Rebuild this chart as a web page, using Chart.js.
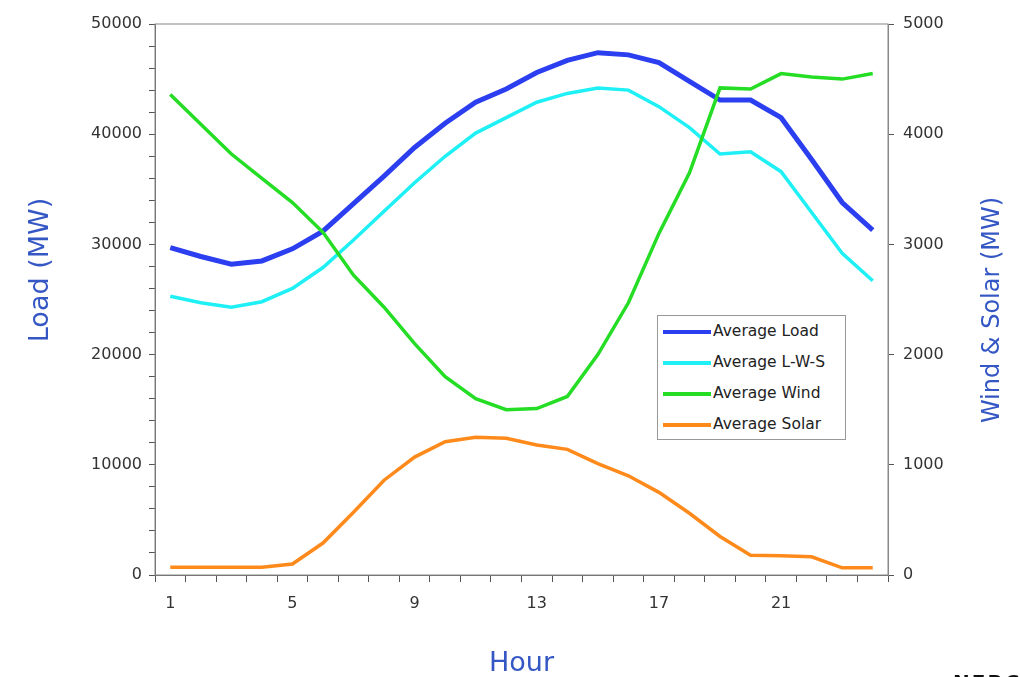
<!DOCTYPE html>
<html>
<head>
<meta charset="utf-8">
<script src="https://cdn.jsdelivr.net/npm/chart.js@4/dist/chart.umd.min.js"></script>
<style>
  body { margin: 0; background: #fff; overflow: hidden; }
  #wrap { position: relative; width: 1020px; height: 677px; overflow: hidden; }
  #legend {
    position: absolute; left: 657px; top: 315px; width: 189px; height: 125px;
    border: 1px solid #999; background: #fff; box-sizing: border-box;
    font: 15.5px "DejaVu Sans", sans-serif; color: #222;
  }
  #legend div { height: 31px; line-height: 31px; white-space: nowrap; }
  #legend span { display: inline-block; width: 48px; height: 4px; vertical-align: middle; margin: 0 2px 0 5px; }
  #nerc { position: absolute; left: 953px; top: 670px; font: bold 20px "DejaVu Sans", sans-serif; color: #111; letter-spacing: 2px; }
</style>
</head>
<body>
<div id="wrap">
  <canvas id="c" width="1020" height="677"></canvas>
  <div id="legend"></div>
  <div id="nerc">NERC</div>
</div>
<script>
// hourly averages
var hours = ['1','2','3','4','5','6','7','8','9','10','11','12','13','14','15','16','17','18','19','20','21','22','23','24'];
var avgLoad = [29700, 28900, 28200, 28500, 29600, 31200, 33700, 36200, 38800, 41000, 42900, 44100, 45600, 46700, 47400, 47200, 46500, 44800, 43100, 43100, 41500, 37700, 33800, 31300];
var avgLWS = [25300, 24700, 24300, 24800, 26000, 27900, 30400, 33000, 35600, 38000, 40100, 41500, 42900, 43700, 44200, 44000, 42500, 40600, 38200, 38400, 36600, 32900, 29200, 26700];
var avgWind = [4360, 4090, 3820, 3600, 3380, 3110, 2720, 2430, 2100, 1800, 1600, 1500, 1510, 1620, 2000, 2470, 3100, 3650, 4420, 4410, 4550, 4520, 4500, 4550];
var avgSolar = [70, 70, 70, 70, 100, 290, 570, 860, 1070, 1210, 1250, 1240, 1180, 1140, 1010, 900, 750, 560, 350, 180, 175, 165, 65, 65];

var titleBlue = '#3557c4';
var tickFont = { family: 'DejaVu Sans', size: 16 };

// frame round the plot + the two rotated y titles
var framePlugin = {
    id: 'frame',
    afterDraw: function (chart) {
        var ctx = chart.ctx, a = chart.chartArea;
        ctx.save();
        ctx.strokeStyle = '#888';
        ctx.lineWidth = 1;
        ctx.strokeRect(a.left, a.top, a.right - a.left, a.bottom - a.top);

        ctx.fillStyle = titleBlue;
        ctx.textAlign = 'center';
        ctx.textBaseline = 'middle';
        ctx.font = '27px "DejaVu Sans"';
        ctx.translate(41, 270);
        ctx.rotate(-Math.PI / 2);
        ctx.fillText('Load (MW)', 0, 0);
        ctx.restore();

        ctx.save();
        ctx.fillStyle = titleBlue;
        ctx.textAlign = 'center';
        ctx.textBaseline = 'middle';
        ctx.font = '24px "DejaVu Sans"';
        ctx.translate(993, 310);
        ctx.rotate(-Math.PI / 2);
        ctx.fillText('Wind & Solar (MW)', 0, 0);
        ctx.restore();
    }
};

function line(label, data, color, width, axis, order) {
    return {
        label: label, data: data, yAxisID: axis, order: order,
        borderColor: color, backgroundColor: color, borderWidth: width,
        pointRadius: 0, tension: 0, fill: false
    };
}

var chart = new Chart(document.getElementById('c'), {
    type: 'line',
    data: {
        labels: hours,
        datasets: [
            line('Average Load', avgLoad, '#2b3ff0', 5, 'y', 2),
            line('Average L-W-S', avgLWS, '#1ef0f6', 3.5, 'y', 1),
            line('Average Wind', avgWind, '#25dd25', 3.5, 'y1', 0),
            line('Average Solar', avgSolar, '#ff8a1c', 3.5, 'y1', 0)
        ]
    },
    options: {
        responsive: false,
        animation: false,
        layout: { padding: { top: 24, left: 0, right: 0, bottom: 0 } },
        plugins: { legend: { display: false }, tooltip: { enabled: false } },
        scales: {
            x: {
                offset: true,
                grid: { offset: true, drawOnChartArea: false, tickLength: 7, color: '#555' },
                border: { color: '#666' },
                ticks: {
                    autoSkip: false, maxRotation: 0, padding: 12, color: '#333', font: tickFont,
                    callback: function (v, i) { return i % 4 === 0 ? this.getLabelForValue(v) : ''; }
                },
                title: { display: true, text: 'Hour', color: titleBlue, font: { family: 'DejaVu Sans', size: 27 }, padding: { top: 0, bottom: -3 } },
                afterFit: function (s) { s.height = 102; }
            },
            y: {
                position: 'left', min: 0, max: 50000,
                grid: { drawOnChartArea: false, tickLength: 6, color: '#555' },
                border: { color: '#666' },
                ticks: {
                    stepSize: 2000, autoSkip: false, padding: 7, color: '#333', font: tickFont,
                    callback: function (v) { return v % 10000 === 0 ? String(v) : ''; }
                },
                afterFit: function (s) { s.width = 155; }
            },
            y1: {
                position: 'right', min: 0, max: 5000,
                grid: { drawOnChartArea: false, tickLength: 6, color: '#555' },
                border: { color: '#888' },
                ticks: {
                    stepSize: 1000, padding: 9, color: '#333', font: tickFont,
                    callback: function (v) { return String(v); }
                },
                afterFit: function (s) { s.width = 132; }
            }
        }
    },
    plugins: [framePlugin]
});

// legend box inside the plot
var leg = document.getElementById('legend');
chart.data.datasets.forEach(function (ds) {
    var row = document.createElement('div');
    var sw = document.createElement('span');
    sw.style.background = ds.borderColor;
    row.appendChild(sw);
    row.appendChild(document.createTextNode(ds.label));
    leg.appendChild(row);
});
</script>
</body>
</html>
